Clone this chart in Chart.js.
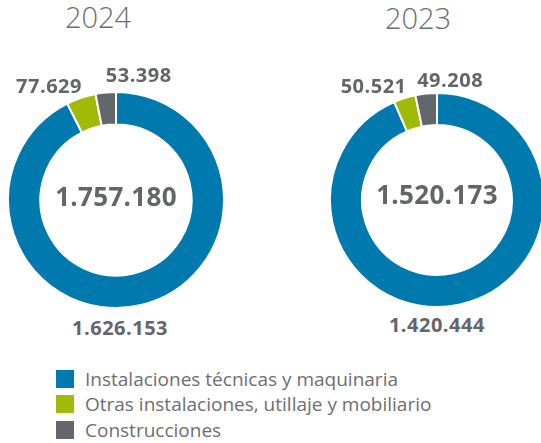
<!DOCTYPE html>
<html>
<head>
<meta charset="utf-8">
<script src="https://cdn.jsdelivr.net/npm/chart.js@4/dist/chart.umd.min.js"></script>
<style>
  html, body { margin: 0; padding: 0; background: #fff; }
  body { width: 541px; height: 443px; position: relative; overflow: hidden; font-family: "Open Sans", sans-serif; }
  .title { position: absolute; font-size: 29px; font-weight: 300; color: #6d6e71; line-height: 1; transform: translateX(-50%); white-space: nowrap; }
  .box { position: absolute; }
  .val { position: absolute; font-weight: 700; color: #636569; font-size: 20px; letter-spacing: 0.5px; line-height: 1; transform: translate(-50%, -50%); white-space: nowrap; }
  .total { position: absolute; font-weight: 700; color: #636569; font-size: 26px; letter-spacing: 0.3px; line-height: 1; transform: translate(-50%, -50%); white-space: nowrap; }
  .legend { position: absolute; left: 56px; top: 366px; }
  .legend .row { display: flex; align-items: center; height: 25.5px; }
  .legend .sw { width: 18px; height: 18px; margin-right: 11px; flex: none; }
  .legend .txt { font-size: 19px; color: #6d6e71; white-space: nowrap; }
</style>
</head>
<body>
<script>
// ---- data ----
const years = ["2024", "2023"];
const categories = [
  "Instalaciones técnicas y maquinaria",
  "Otras instalaciones, utillaje y mobiliario",
  "Construcciones"
];
const values2024 = [1626153, 77629, 53398];
const values2023 = [1420444, 50521, 49208];
const colors = ["#0079ae", "#a0ba0a", "#63666a"];

// ---- layout (positions/sizes only) ----
const layouts = [
  { cx: 116, cy: 200, size: 218, titleX: 98, titleY: 8, totalDy: -4, offs: [[-21, 23], [-32, -12], [33, -17]] },
  { cx: 437, cy: 200, size: 216, titleX: 418, titleY: 9, totalDy: -6, offs: [[-22, 20], [-31, -12], [24, -14]] }
];
const seriesList = [values2024, values2023];

function fmt(n) { return String(n).replace(/\B(?=(\d{3})+(?!\d))/g, "."); }

seriesList.forEach((vals, k) => {
  const L = layouts[k];
  const t = document.createElement("div");
  t.className = "title";
  t.textContent = years[k];
  t.style.left = L.titleX + "px";
  t.style.top = (L.titleY - 6) + "px";
  document.body.appendChild(t);

  const box = document.createElement("div");
  box.className = "box";
  box.style.left = (L.cx - L.size / 2) + "px";
  box.style.top = (L.cy - L.size / 2) + "px";
  box.style.width = L.size + "px";
  box.style.height = L.size + "px";
  const cv = document.createElement("canvas");
  box.appendChild(cv);
  document.body.appendChild(box);

  const chart = new Chart(cv, {
    type: "doughnut",
    data: {
      labels: categories,
      datasets: [{ data: vals, backgroundColor: colors, borderColor: "#ffffff", borderWidth: 2 }]
    },
    options: {
      responsive: true,
      maintainAspectRatio: false,
      animation: false,
      cutout: "70%",
      plugins: { legend: { display: false }, tooltip: { enabled: false } },
      layout: { padding: 0 }
    }
  });

  const meta = chart.getDatasetMeta(0);
  const ox = L.cx - L.size / 2, oy = L.cy - L.size / 2;
  meta.data.forEach((arc, i) => {
    const p = arc.getProps(["x", "y", "startAngle", "endAngle", "outerRadius"], true);
    const mid = (p.startAngle + p.endAngle) / 2;
    const ax = ox + p.x + Math.cos(mid) * p.outerRadius;
    const ay = oy + p.y + Math.sin(mid) * p.outerRadius;
    const d = document.createElement("div");
    d.className = "val";
    d.textContent = fmt(vals[i]);
    d.style.left = (ax + L.offs[i][0]) + "px";
    d.style.top = (ay + L.offs[i][1]) + "px";
    document.body.appendChild(d);
  });
  const total = vals.reduce((a, b) => a + b, 0);
  const tt = document.createElement("div");
  tt.className = "total";
  tt.textContent = fmt(total);
  tt.style.left = (ox + meta.data[0].x) + "px";
  tt.style.top = (oy + meta.data[0].y + L.totalDy) + "px";
  document.body.appendChild(tt);
});

const lg = document.createElement("div");
lg.className = "legend";
categories.forEach((c, i) => {
  const r = document.createElement("div");
  r.className = "row";
  const s = document.createElement("div");
  s.className = "sw";
  s.style.background = colors[i];
  const tx = document.createElement("div");
  tx.className = "txt";
  tx.textContent = c;
  r.appendChild(s); r.appendChild(tx);
  lg.appendChild(r);
});
document.body.appendChild(lg);
</script>
</body>
</html>
